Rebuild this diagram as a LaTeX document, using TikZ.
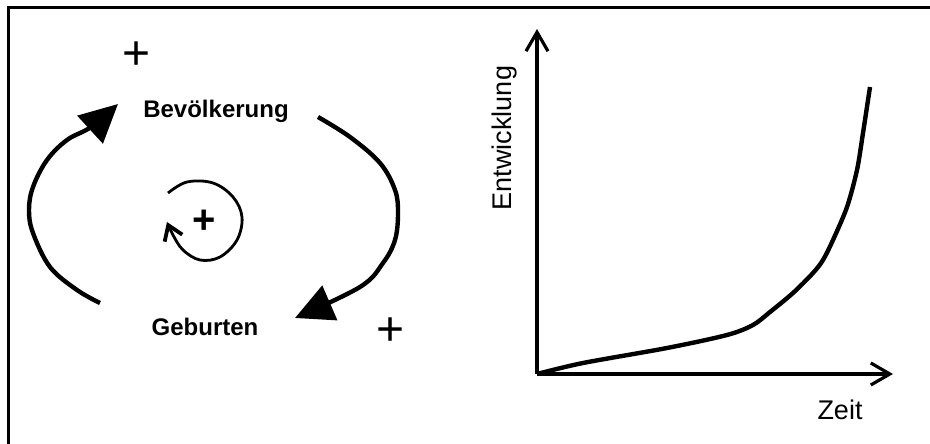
\documentclass[tikz,border=0pt]{standalone}
\usepackage{fontspec}
\setmainfont{Liberation Sans}
\usetikzlibrary{arrows.meta}

\begin{document}
\begin{tikzpicture}[
  x=1pt, y=1pt,
  var/.style={font=\fontsize{24}{28}\selectfont\bfseries, inner sep=0pt, anchor=base},
  axlabel/.style={font=\fontsize{27}{31}\selectfont, inner sep=0pt},
  sign/.style={font=\fontsize{48}{48}\selectfont, inner sep=0pt},
  bigsign/.style={font=\fontsize{40}{40}\selectfont\bfseries, inner sep=0pt},
  link/.style={-{Triangle[length=38pt, width=37pt]}, line width=4.4pt},
  selfloop/.style={-{Straight Barb[length=14pt, width=19pt, line width=3.8pt]}, line width=2.8pt},
  axis/.style={-{Straight Barb[length=19pt, width=22pt]}, line width=3.2pt},
  growth/.style={line width=4.4pt, line join=round},
]
\useasboundingbox (0,0) rectangle (930,444);

% Frame (top and left only)
\draw[line width=3pt] (930,436) -- (8,436) -- (8,0);

% Causal loop
\node[var] (bev) at (216,326) {Bevölkerung};
\node[var] (geb) at (205,108) {Geburten};
\node[sign] (plustop) at (137,388) {+};
\node[sign] (plusright) at (391,112) {+};
\node[bigsign] (plusself) at (204,222) {+};

\coordinate (gebL) at (100,141);
\coordinate (bevL) at (118,340);
\coordinate (bevR) at (318,327);
\coordinate (gebR) at (295,126);

\draw[link] plot[smooth, tension=0.6] coordinates {(gebL) (77,154) (50,177) (33,211) (29,234) (33,257) (47,284) (67,304) (91,317) (bevL)};
\draw[link] plot[smooth, tension=0.6] coordinates {(bevR) (350,307) (380,281) (395,254) (398,231) (395,204) (383,181) (360,157) (gebR)};

% Self-reinforcing loop around the inner sign
\coordinate (selfstart) at (168,251);
\coordinate (selfend) at (167,222);
\draw[selfloop] plot[smooth, tension=0.6] coordinates {(selfstart) (187,262) (213,261) (233,247) (242,227) (237,204) (220,187) (200,184) (183,194) (173,209) (selfend)};

% Growth chart
\coordinate (origin) at (537,70);
\coordinate (ytip) at (537,415);
\coordinate (xtip) at (893,70);
\draw[axis] (origin) -- (ytip);
\draw[axis] (origin) -- (xtip);
\node[axlabel, rotate=90] (entw) at (505,306) {Entwicklung};
\node[axlabel, anchor=base] (zeit) at (840,24) {Zeit};

\draw[growth] plot[smooth, tension=0.5] coordinates {(origin) (583,81) (667,96) (727,109) (753,119) (770,132) (793,151) (813,171) (823,184) (833,204) (847,237) (857,274) (863,311) (870,357)};

\end{tikzpicture}
\end{document}
